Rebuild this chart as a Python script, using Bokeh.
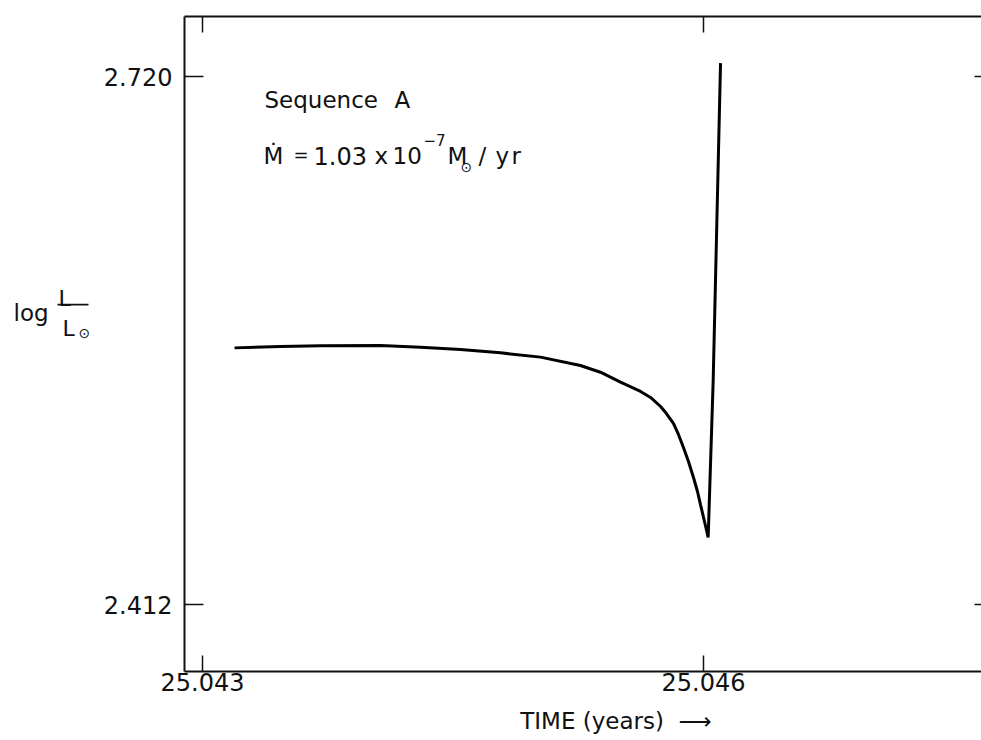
from bokeh.plotting import figure
from bokeh.models import Range1d, FixedTicker, LinearAxis, Label
from bokeh.layouts import row
from bokeh.core.properties import value
from bokeh.embed import file_html
from bokeh.resources import INLINE

# ---- data ----
time_years = [25.043192, 25.043467, 25.043707, 25.044066, 25.044305, 25.044545,
              25.044784, 25.045024, 25.045263, 25.045383, 25.045503, 25.045623,
              25.045683, 25.045743, 25.045778, 25.045820, 25.045850, 25.045880,
              25.045910, 25.045940, 25.045964, 25.045982, 25.046006, 25.046028,
              25.046058, 25.046102]
log_L = [2.5617, 2.5625, 2.5629, 2.5631, 2.5621, 2.5607,
         2.5588, 2.5563, 2.5514, 2.5475, 2.5417, 2.5363,
         2.5328, 2.5275, 2.5234, 2.5176, 2.5112, 2.5036,
         2.4954, 2.4861, 2.4779, 2.4703, 2.4604, 2.4511,
         2.5427, 2.7278]
x_ticks = [25.043, 25.046]
x_tick_labels = ["25.043", "25.046"]
y_ticks = [2.412, 2.720]
y_tick_labels = ["2.412", "2.720"]
x_title = "TIME\u00a0(years)\u00a0\u00a0\u27f6"

FONT = "DejaVu Sans"
INK = "#111111"
NB = "\u00a0"

W, H = 981, 740
WL = 100            # width of the y-title strip
HL = 700            # height of the y-title strip
FL, FR, FT, FB = 184, 981, 16, 671  # frame edges in window pixels

x0, x1 = 25.0428922, 25.0476647
y0, y1 = 2.37292, 2.75500


def xd(px):
    return x0 + (px - FL) * (x1 - x0) / (FR - FL)


def yd(py):
    return y0 + (FB - py) * (y1 - y0) / (FB - FT)


# ---------------- main plot ----------------
p = figure(width=W - WL, height=H, output_backend="svg", toolbar_location=None,
           x_range=Range1d(x0, x1), y_range=Range1d(y0, y1),
           min_border_left=FL - WL, min_border_right=W - FR,
           min_border_top=FT, min_border_bottom=H - FB)
p.outline_line_color = None
p.xgrid.visible = False
p.ygrid.visible = False
p.background_fill_color = "white"
p.border_fill_color = "white"


def style_axis(ax, ticks, labels, tick_in, show_labels, line=True, standoff=8):
    ax.ticker = FixedTicker(ticks=ticks)
    ax.minor_tick_line_color = None
    ax.major_tick_in = tick_in
    ax.major_tick_out = 0
    ax.major_tick_line_color = INK
    ax.major_tick_line_width = 1.5
    ax.axis_line_color = INK if line else None
    ax.axis_line_width = 2
    if show_labels:
        ax.major_label_overrides = {t: l for t, l in zip(ticks, labels)}
        ax.major_label_text_font = FONT
        ax.major_label_text_font_size = "24px"
        ax.major_label_text_color = INK
        ax.major_label_standoff = standoff
    else:
        ax.major_label_overrides = {t: "" for t in ticks}
        ax.major_label_text_font_size = "0px"
        ax.major_label_standoff = 0


style_axis(p.xaxis[0], x_ticks, x_tick_labels, 16, True, standoff=1)
style_axis(p.yaxis[0], y_ticks, y_tick_labels, 19, True, standoff=12)

# x title: centred by Bokeh under the frame; leading no-break spaces shift it right
xa = p.xaxis[0]
xa.axis_label = NB * 9 + x_title
xa.axis_label_text_font = FONT
xa.axis_label_text_font_size = "23px"
xa.axis_label_text_font_style = "normal"
xa.axis_label_text_color = INK
xa.axis_label_standoff = 14

top_ax = LinearAxis()
style_axis(top_ax, x_ticks, x_tick_labels, 16, False)
p.add_layout(top_ax, "above")

right_ax = LinearAxis()
style_axis(right_ax, y_ticks, y_tick_labels, 7, False, line=False)
p.add_layout(right_ax, "right")

p.line(time_years, log_L, line_color="black", line_width=3)


def lab(text, px, py, size, align="left"):
    p.add_layout(Label(x=xd(px), y=yd(py), text=text, text_font=FONT,
                       text_font_size=f"{size}px", text_color=INK,
                       text_align=align, text_baseline="alphabetic"))


lab("Sequence", 264, 99, 23)
lab("A", 394, 99, 23)
lab("Ṁ", 263, 155, 23)
lab("=", 293, 154, 18)
lab("1.03", 313, 155, 24)
lab("x", 374, 155, 23)
lab("10", 392, 155, 23)
lab("−7", 423, 139, 15)
lab("M", 447, 155, 23)
lab("⊙", 460, 166, 14)
lab("/", 478, 155, 23)
lab("y", 495, 155, 23)
lab("r", 511, 155, 23)

# ---------------- y title strip ----------------
ly = figure(width=WL, height=HL, output_backend="svg", toolbar_location=None,
            x_range=Range1d(0, WL), y_range=Range1d(HL, 0),
            x_axis_location=None, y_axis_location=None,
            min_border=0, min_border_left=0, min_border_right=0,
            min_border_top=0, min_border_bottom=0, outline_line_color=None)
ly.xgrid.visible = False
ly.ygrid.visible = False
ly.text(x=[13], y=[337], text=["log"], text_font=value(FONT), text_font_size="23px",
        text_color=INK, text_baseline="alphabetic")
ly.text(x=[58], y=[321], text=["L"], text_font=value(FONT), text_font_size="22px",
        text_color=INK, text_baseline="alphabetic")
ly.segment(x0=[57], y0=[328], x1=[88], y1=[328], line_color=INK, line_width=1.6)
ly.text(x=[62], y=[355], text=["L"], text_font=value(FONT), text_font_size="22px",
        text_color=INK, text_baseline="alphabetic")
ly.text(x=[78], y=[360], text=["⊙"], text_font=value(FONT), text_font_size="14px",
        text_color=INK, text_baseline="alphabetic")

layout = row(ly, p)
open("out.html", "w").write(file_html(layout, INLINE))
